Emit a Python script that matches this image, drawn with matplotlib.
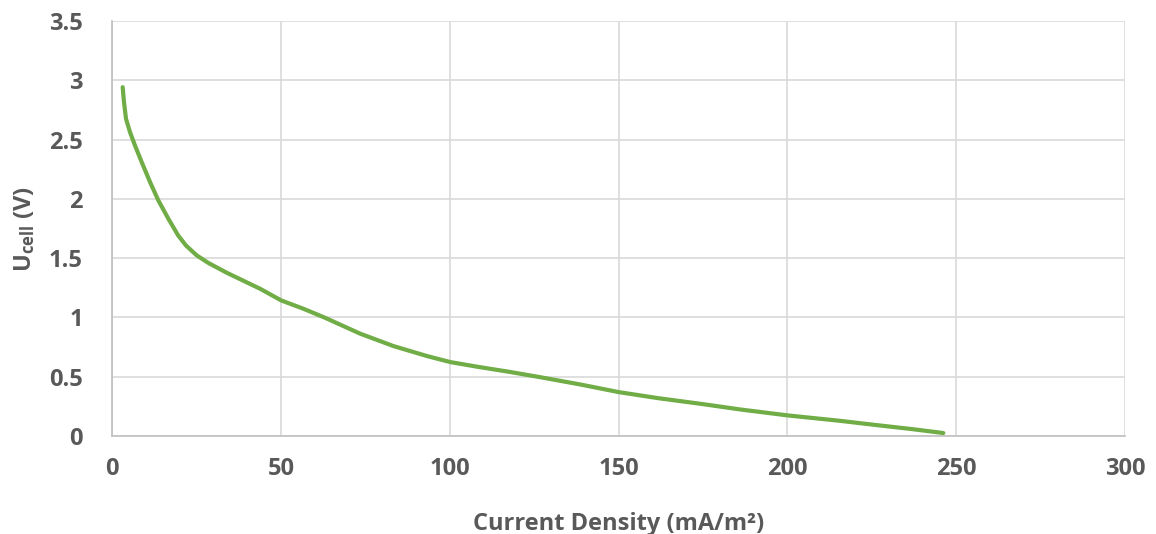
import matplotlib
matplotlib.use("Agg")
import matplotlib.pyplot as plt

# Data
current_density = [3.16, 3.55, 4.15, 5.33, 6.81, 8.79, 11.26, 13.72, 16.7, 19.6, 21.9,
                   25.1, 28.5, 33.97, 43.84, 50.15, 56.7, 63.1, 73.5, 83.3, 93.2, 100.1,
                   108.0, 117.9, 126.8, 138.6, 150.1, 162.0, 174.2, 186.0, 200.0, 215.6,
                   225.5, 237.0, 246.2]
u_cell = [2.942, 2.816, 2.675, 2.563, 2.450, 2.310, 2.142, 1.987, 1.832, 1.691, 1.607,
          1.523, 1.460, 1.377, 1.242, 1.143, 1.073, 0.997, 0.863, 0.759, 0.675, 0.624,
          0.585, 0.540, 0.496, 0.435, 0.370, 0.318, 0.272, 0.224, 0.174, 0.128,
          0.095, 0.058, 0.025]

x_ticks = [0, 50, 100, 150, 200, 250, 300]
y_ticks = [0, 0.5, 1, 1.5, 2, 2.5, 3, 3.5]
y_tick_labels = ["0", "0.5", "1", "1.5", "2", "2.5", "3", "3.5"]

plt.rcParams['font.family'] = ['Open Sans', 'DejaVu Sans']
plt.rcParams['mathtext.fontset'] = 'custom'
plt.rcParams['mathtext.rm'] = 'Open Sans:bold'
plt.rcParams['mathtext.it'] = 'Open Sans:bold'
plt.rcParams['mathtext.default'] = 'rm'

W, H = 1156, 534
text_color = '#595959'
fs = 17
fig = plt.figure(figsize=(W / 100, H / 100), dpi=100)
ax = fig.add_axes([112 / W, 1 - 436 / H, 1013 / W, 415 / H])

ax.plot(current_density, u_cell, color='#70ad47', lw=3.0,
        solid_capstyle='round', solid_joinstyle='round', zorder=3)

ax.set_xlim(0, 300)
ax.set_ylim(0, 3.5)
ax.set_xticks(x_ticks)
ax.set_yticks(y_ticks)
ax.set_yticklabels(y_tick_labels)
ax.grid(True, color='#d9d9d9', lw=1.2, zorder=0)
ax.set_axisbelow(True)
for s in ['top', 'right']:
    ax.spines[s].set_visible(False)
for s in ['left', 'bottom']:
    ax.spines[s].set_color('#bfbfbf')
    ax.spines[s].set_linewidth(1.2)
ax.tick_params(axis='both', length=0, labelsize=fs, labelcolor=text_color)
ax.tick_params(axis='x', pad=15)
ax.tick_params(axis='y', pad=21)
for lab in ax.get_xticklabels() + ax.get_yticklabels():
    lab.set_fontweight('bold')

fig.text(618.5 / W, 1 - 530 / H, 'Current Density (mA/m²)', fontsize=fs,
         fontweight='bold', color=text_color, ha='center', va='baseline')
fig.text(31 / W, 1 - 229 / H, r'U$_{cell}$ (V)', fontsize=fs, fontweight='bold',
         color=text_color, ha='center', va='baseline', rotation=90,
         rotation_mode='anchor')

fig.savefig('out.png', dpi=100)
